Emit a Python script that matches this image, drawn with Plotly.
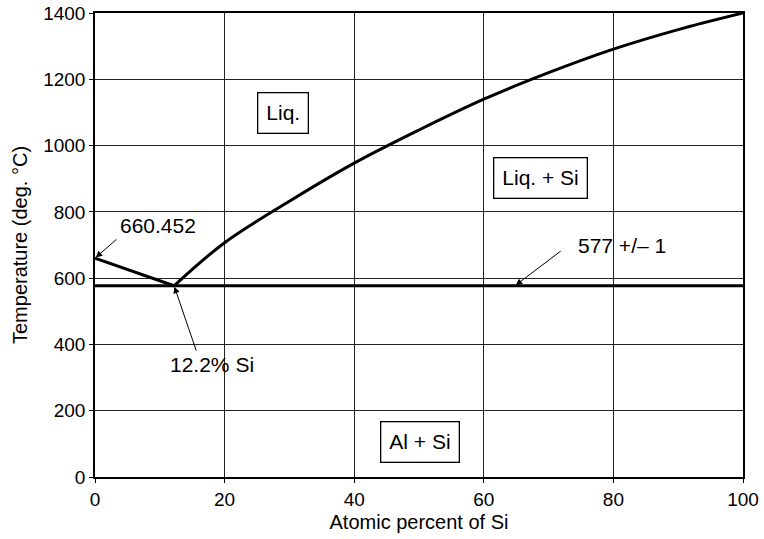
import plotly.graph_objects as go

# Al-Si binary phase diagram data
al_melt_x = [0.0, 12.2]
al_melt_t = [660.452, 577.0]

liquidus_x = [12.2, 20, 30, 40, 50, 60, 70, 80, 90, 100]
liquidus_t = [577.0, 707, 832, 947, 1047, 1140, 1220, 1291, 1350, 1400]

eutectic_x = [0, 100]
eutectic_t = [577.0, 577.0]

x_ticks = [0, 20, 40, 60, 80, 100]
y_ticks = [0, 200, 400, 600, 800, 1000, 1200, 1400]

FONT = "Liberation Sans, Arial, Helvetica, sans-serif"
line_style = dict(color="black", width=3)

fig = go.Figure()
fig.add_trace(go.Scatter(x=al_melt_x, y=al_melt_t, mode="lines", line=line_style,
                         hoverinfo="skip"))
fig.add_trace(go.Scatter(x=liquidus_x, y=liquidus_t, mode="lines",
                         line=dict(color="black", width=3, shape="spline", smoothing=1.0),
                         hoverinfo="skip"))
fig.add_trace(go.Scatter(x=eutectic_x, y=eutectic_t, mode="lines", line=line_style,
                         hoverinfo="skip"))

annotations = []

# Phase-region labels in boxes
for txt, x, y in [("Liq.", 29.0, 1098), ("Liq. + Si", 68.7, 902), ("Al + Si", 50.2, 106)]:
    annotations.append(dict(x=x, y=y, xref="x", yref="y", text=txt, showarrow=False,
                            font=dict(family=FONT, size=21, color="black"),
                            bordercolor="black", borderwidth=1.3, borderpad=8,
                            bgcolor="white"))

# Callout text
for txt, x, y in [("660.452", 9.7, 760), ("12.2% Si", 18.1, 338), ("577 +/\u2013 1", 81.3, 700)]:
    annotations.append(dict(x=x, y=y, xref="x", yref="y", text=txt, showarrow=False,
                            font=dict(family=FONT, size=21, color="black")))

# Callout arrows (tip = point of interest, tail near the text)
for tip_x, tip_y, tail_x, tail_y in [(al_melt_x[0], al_melt_t[0], 3.55, 721),
                                     (al_melt_x[1], al_melt_t[1], 15.7, 377),
                                     (64.8, eutectic_t[0], 72.1, 685)]:
    annotations.append(dict(x=tip_x, y=tip_y, xref="x", yref="y",
                            ax=tail_x, ay=tail_y, axref="x", ayref="y",
                            text="", showarrow=True, arrowhead=2, arrowsize=1.3,
                            arrowwidth=1, arrowcolor="black", standoff=1))

fig.update_layout(
    width=764, height=539,
    margin=dict(l=95, r=21, t=13, b=62),
    paper_bgcolor="white", plot_bgcolor="white",
    showlegend=False,
    font=dict(family=FONT, size=19, color="black"),
    annotations=annotations,
)
fig.update_xaxes(range=[0, 100], tickvals=x_ticks, showgrid=True, gridcolor="#222",
                 gridwidth=1, zeroline=False, showline=True, linecolor="black",
                 linewidth=1.5, mirror=True, ticks="outside", ticklen=4,
                 tickcolor="black", tickfont=dict(size=19), automargin=False,
                 title=dict(text="Atomic percent of Si", font=dict(size=20), standoff=6))
fig.update_yaxes(range=[0, 1400], tickvals=y_ticks, showgrid=True, gridcolor="#222",
                 gridwidth=1, zeroline=False, showline=True, linecolor="black",
                 linewidth=1.5, mirror=True, ticks="outside", ticklen=4,
                 tickcolor="black", tickfont=dict(size=19), automargin=False,
                 title=dict(text="Temperature (deg. \u00b0C)", font=dict(size=20), standoff=10))

fig.write_html("out.html")
